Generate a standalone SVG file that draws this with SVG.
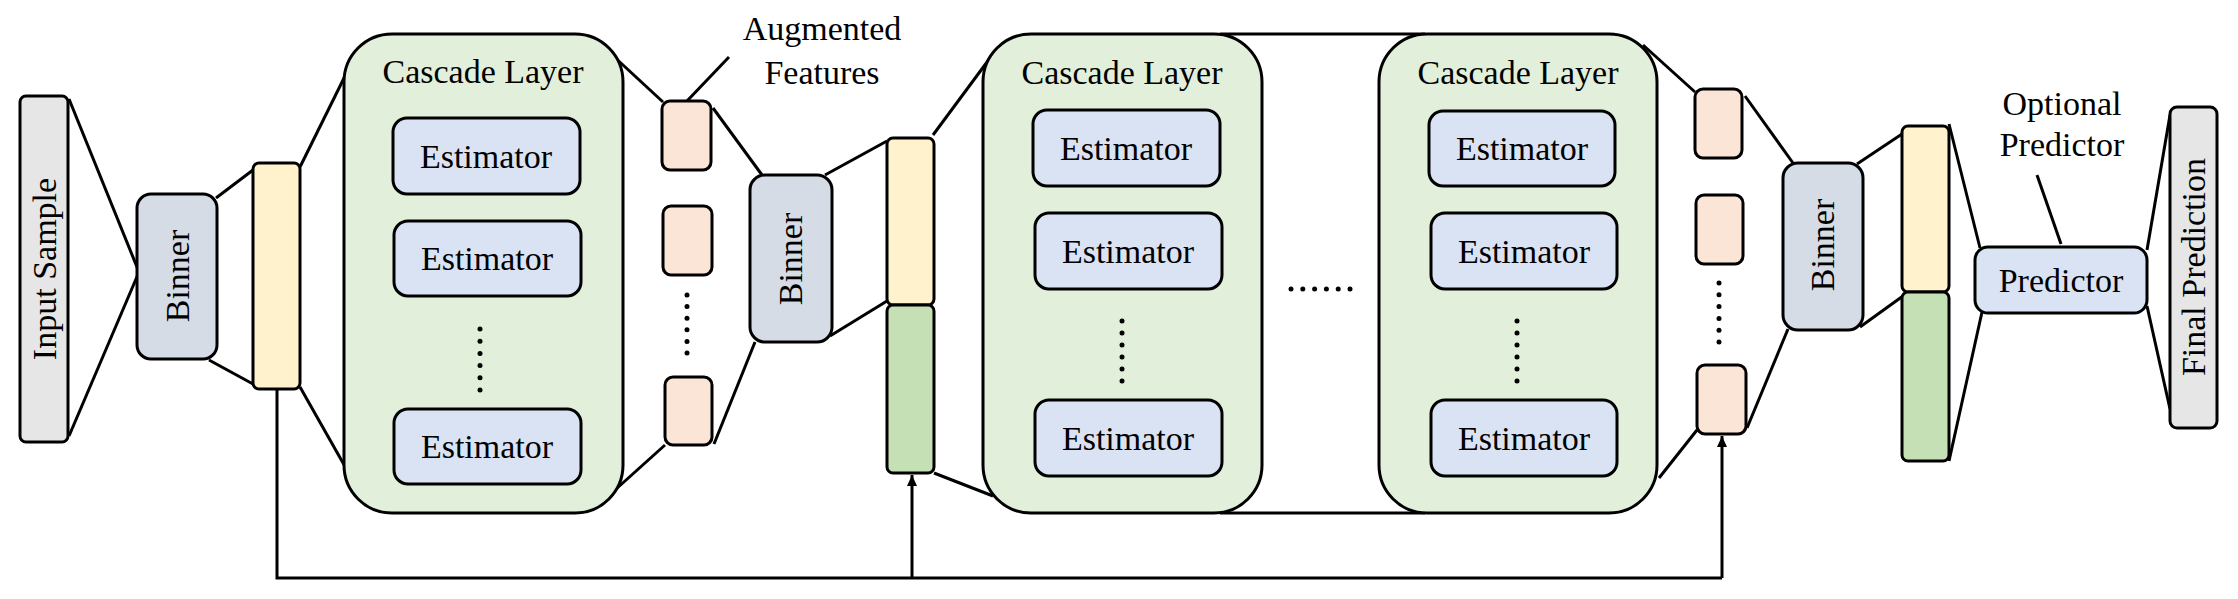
<svg xmlns="http://www.w3.org/2000/svg" width="2238" height="599" viewBox="0 0 2238 599">
<style>
.b{stroke:#000;stroke-width:3}
.l{stroke:#000;stroke-width:3;fill:none}
.t{font-family:"Liberation Serif","Times New Roman",serif;font-size:34px;fill:#000;text-anchor:middle}
.gray{fill:#e6e6e6}.bin{fill:#d6dce5}.yel{fill:#fff2cc}.grn{fill:#c5e0b4}.cas{fill:#e2efda}.est{fill:#dae3f3}.org{fill:#fbe5d6}
.dot{fill:#000}
</style>
<defs>
<marker id="arr" markerWidth="11" markerHeight="10" refX="11" refY="5" orient="auto" markerUnits="userSpaceOnUse" viewBox="0 0 11 10">
<path d="M0,0 L11,5 L0,10 Z" fill="#000"/>
</marker>
</defs>
<rect width="2238" height="599" fill="#fff"/>
<g id="connectors">
<line class="l" x1="69" y1="99" x2="139" y2="272"/>
<line class="l" x1="69" y1="436" x2="139" y2="272"/>
<line class="l" x1="216" y1="198" x2="253" y2="170"/>
<line class="l" x1="209" y1="360" x2="253" y2="384"/>
<line class="l" x1="300" y1="167" x2="347" y2="72"/>
<line class="l" x1="300" y1="387" x2="347" y2="470"/>
<line class="l" x1="610" y1="53" x2="663" y2="102"/>
<line class="l" x1="615" y1="490" x2="665" y2="445"/>
<line class="l" x1="729" y1="57" x2="687" y2="101"/>
<line class="l" x1="713" y1="108" x2="762" y2="175"/>
<line class="l" x1="714" y1="444" x2="755" y2="342"/>
<line class="l" x1="825" y1="175" x2="887" y2="141"/>
<line class="l" x1="830" y1="336" x2="887" y2="301"/>
<line class="l" x1="933" y1="135" x2="993" y2="54"/>
<line class="l" x1="934" y1="473" x2="993" y2="496"/>
<line class="l" x1="1220" y1="34" x2="1425" y2="34"/>
<line class="l" x1="1220" y1="513" x2="1425" y2="513"/>
<line class="l" x1="1643" y1="45" x2="1695" y2="92"/>
<line class="l" x1="1659" y1="478" x2="1697" y2="430"/>
<line class="l" x1="1745" y1="96" x2="1793" y2="163"/>
<line class="l" x1="1747" y1="428" x2="1788" y2="329"/>
<line class="l" x1="1857" y1="164" x2="1908" y2="130"/>
<line class="l" x1="1860" y1="327" x2="1903" y2="296"/>
<line class="l" x1="1949" y1="124" x2="1980" y2="248"/>
<line class="l" x1="1949" y1="461" x2="1982" y2="312"/>
<line class="l" x1="2037" y1="175" x2="2061" y2="244"/>
<line class="l" x1="2147" y1="250" x2="2170" y2="115"/>
<line class="l" x1="2147" y1="306" x2="2170" y2="409"/>
<polyline class="l" points="277,389 277,578 1722,578"/>
<line class="l" x1="912" y1="578" x2="912" y2="475" marker-end="url(#arr)"/>
<line class="l" x1="1722" y1="578" x2="1722" y2="436" marker-end="url(#arr)"/>
</g>
<g id="input-sample">
<rect class="b gray" x="20" y="96" width="48" height="346" rx="6"/>
<text class="t" transform="translate(56,269) rotate(-90)">Input Sample</text>
</g>
<g id="binner-1">
<rect class="b bin" x="137" y="194" width="80" height="165" rx="14"/>
<text class="t" transform="translate(189,276) rotate(-90)">Binner</text>
</g>
<g id="features-1">
<rect class="b yel" x="253" y="163" width="47" height="226" rx="6"/>
</g>
<g id="cascade-1">
<rect class="b cas" x="344" y="34" width="279" height="479" rx="48"/>
<text class="t" x="483" y="83">Cascade Layer</text>
<rect class="b est" x="393" y="118" width="187" height="76" rx="14"/>
<text class="t" x="486" y="168">Estimator</text>
<rect class="b est" x="394" y="221" width="187" height="75" rx="14"/>
<text class="t" x="487" y="270">Estimator</text>
<rect class="b est" x="394" y="409" width="187" height="75" rx="14"/>
<text class="t" x="487" y="458">Estimator</text>
<g class="dot"><circle cx="480" cy="329" r="2.5"/><circle cx="480" cy="341.2" r="2.5"/><circle cx="480" cy="353.4" r="2.5"/><circle cx="480" cy="365.6" r="2.5"/><circle cx="480" cy="377.8" r="2.5"/><circle cx="480" cy="390" r="2.5"/></g>
</g>
<g id="augmented-1">
<rect class="b org" x="662" y="101" width="49" height="69" rx="8"/>
<rect class="b org" x="663" y="206" width="49" height="69" rx="8"/>
<rect class="b org" x="665" y="377" width="47" height="68" rx="8"/>
<g class="dot"><circle cx="687" cy="295" r="2.5"/><circle cx="687" cy="306.6" r="2.5"/><circle cx="687" cy="318.2" r="2.5"/><circle cx="687" cy="329.8" r="2.5"/><circle cx="687" cy="341.4" r="2.5"/><circle cx="687" cy="353" r="2.5"/></g>
</g>
<g id="augmented-label">
<text class="t" x="822" y="40">Augmented</text>
<text class="t" x="822" y="84">Features</text>
</g>
<g id="binner-2">
<rect class="b bin" x="750" y="175" width="82" height="167" rx="15"/>
<text class="t" transform="translate(802,259) rotate(-90)">Binner</text>
</g>
<g id="features-2">
<rect class="b yel" x="887" y="138" width="47" height="167" rx="6"/>
<rect class="b grn" x="887" y="305" width="47" height="168" rx="6"/>
</g>
<g id="cascade-2">
<rect class="b cas" x="983" y="34" width="279" height="479" rx="48"/>
<text class="t" x="1122" y="84">Cascade Layer</text>
<rect class="b est" x="1033" y="110" width="187" height="76" rx="14"/>
<text class="t" x="1126" y="160">Estimator</text>
<rect class="b est" x="1035" y="213" width="187" height="76" rx="14"/>
<text class="t" x="1128" y="263">Estimator</text>
<rect class="b est" x="1035" y="400" width="187" height="76" rx="14"/>
<text class="t" x="1128" y="450">Estimator</text>
<g class="dot"><circle cx="1122" cy="321" r="2.5"/><circle cx="1122" cy="333" r="2.5"/><circle cx="1122" cy="345" r="2.5"/><circle cx="1122" cy="357" r="2.5"/><circle cx="1122" cy="369" r="2.5"/><circle cx="1122" cy="381" r="2.5"/></g>
</g>
<g id="ellipsis">
<g class="dot"><circle cx="1291" cy="289" r="2.5"/><circle cx="1302.8" cy="289" r="2.5"/><circle cx="1314.6" cy="289" r="2.5"/><circle cx="1326.4" cy="289" r="2.5"/><circle cx="1338.2" cy="289" r="2.5"/><circle cx="1350" cy="289" r="2.5"/></g>
</g>
<g id="cascade-3">
<rect class="b cas" x="1379" y="34" width="278" height="479" rx="48"/>
<text class="t" x="1518" y="84">Cascade Layer</text>
<rect class="b est" x="1429" y="111" width="186" height="75" rx="14"/>
<text class="t" x="1522" y="160">Estimator</text>
<rect class="b est" x="1431" y="213" width="186" height="76" rx="14"/>
<text class="t" x="1524" y="263">Estimator</text>
<rect class="b est" x="1431" y="400" width="186" height="76" rx="14"/>
<text class="t" x="1524" y="450">Estimator</text>
<g class="dot"><circle cx="1517" cy="321" r="2.5"/><circle cx="1517" cy="333" r="2.5"/><circle cx="1517" cy="345" r="2.5"/><circle cx="1517" cy="357" r="2.5"/><circle cx="1517" cy="369" r="2.5"/><circle cx="1517" cy="381" r="2.5"/></g>
</g>
<g id="augmented-2">
<rect class="b org" x="1695" y="89" width="47" height="69" rx="8"/>
<rect class="b org" x="1696" y="195" width="47" height="69" rx="8"/>
<rect class="b org" x="1697" y="365" width="49" height="69" rx="8"/>
<g class="dot"><circle cx="1719" cy="283" r="2.5"/><circle cx="1719" cy="294.8" r="2.5"/><circle cx="1719" cy="306.6" r="2.5"/><circle cx="1719" cy="318.4" r="2.5"/><circle cx="1719" cy="330.2" r="2.5"/><circle cx="1719" cy="342" r="2.5"/></g>
</g>
<g id="binner-3">
<rect class="b bin" x="1783" y="163" width="80" height="167" rx="15"/>
<text class="t" transform="translate(1834,245) rotate(-90)">Binner</text>
</g>
<g id="features-3">
<rect class="b yel" x="1902" y="126" width="47" height="166" rx="6"/>
<rect class="b grn" x="1902" y="292" width="47" height="169" rx="6"/>
</g>
<g id="predictor">
<rect class="b est" x="1975" y="247" width="172" height="66" rx="13"/>
<text class="t" x="2061" y="292">Predictor</text>
</g>
<g id="predictor-label">
<text class="t" x="2062" y="115">Optional</text>
<text class="t" x="2062" y="156">Predictor</text>
</g>
<g id="final-prediction">
<rect class="b gray" x="2170" y="107" width="47" height="321" rx="7"/>
<text class="t" transform="translate(2205,267) rotate(-90)">Final Prediction</text>
</g>
</svg>
